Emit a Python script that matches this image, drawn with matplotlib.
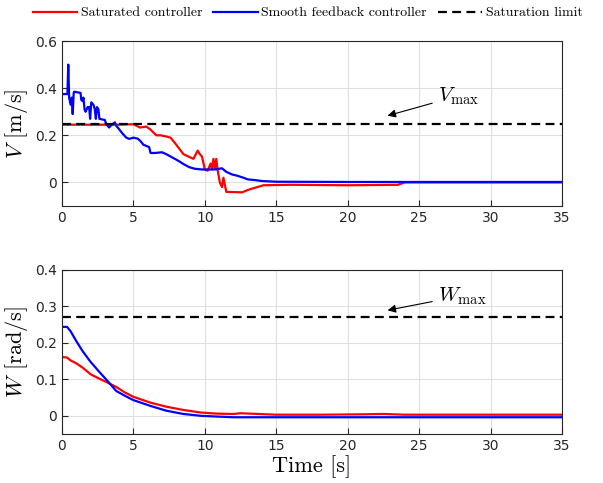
import matplotlib
matplotlib.use("Agg")
import matplotlib.pyplot as plt

# data
t_v_smooth = [0, 0.38, 0.44, 0.5, 0.6, 0.68, 0.75, 0.82, 0.85, 1.3, 1.35, 1.45, 1.5, 1.58, 1.65, 1.8, 1.9,
              1.97, 2.05, 2.2, 2.3, 2.37, 2.45, 2.55, 2.62, 3.0, 3.1, 3.3, 3.4, 3.5, 3.6, 3.7, 3.8, 4.0,
              4.2, 4.35, 4.5, 4.7, 5.0, 5.3, 5.5, 5.7, 5.9, 6.1, 6.2, 6.5, 7.0, 7.3, 7.6, 7.9, 8.2, 8.5,
              8.9, 9.3, 9.8, 10.7, 11.0, 11.2, 11.5, 11.9, 12.3, 12.7, 13.0, 13.5, 14, 15, 20, 25, 30, 35]
v_smooth = [0.375, 0.375, 0.50, 0.36, 0.33, 0.36, 0.29, 0.38, 0.385, 0.38, 0.35, 0.345, 0.36, 0.31, 0.30,
            0.32, 0.32, 0.27, 0.34, 0.33, 0.31, 0.27, 0.32, 0.31, 0.27, 0.265, 0.247, 0.233, 0.24, 0.247,
            0.25, 0.255, 0.24, 0.226, 0.21, 0.20, 0.19, 0.185, 0.19, 0.186, 0.175, 0.16, 0.155, 0.15,
            0.125, 0.125, 0.128, 0.12, 0.11, 0.10, 0.09, 0.078, 0.065, 0.058, 0.055, 0.055, 0.058, 0.06,
            0.045, 0.034, 0.028, 0.02, 0.013, 0.01, 0.006, 0.003, 0.002, 0.002, 0.002, 0.002]

t_v_sat = [0, 2, 4, 5, 5.46, 5.9, 6.16, 6.6, 6.9, 7.3, 7.6, 8.0, 8.5, 9.2, 9.5, 9.65, 9.8, 10.0, 10.2,
           10.4, 10.5, 10.6, 10.7, 10.8, 10.9, 11.05, 11.2, 11.3, 11.5, 12.6, 13.1, 14.1, 16, 20, 23.5, 24, 35]
v_sat = [0.245, 0.245, 0.245, 0.247, 0.233, 0.237, 0.226, 0.20, 0.20, 0.195, 0.19, 0.16, 0.12, 0.10, 0.135,
         0.12, 0.11, 0.055, 0.05, 0.08, 0.055, 0.10, 0.06, 0.10, 0.05, 0.0, -0.02, 0.02, -0.04, -0.042,
         -0.03, -0.012, -0.01, -0.012, -0.01, 0.0, 0.0]

t_w = [0, 0.35, 0.6, 1.0, 1.45, 2.0, 2.6, 3.2, 3.8, 4.4, 5.0, 6.2, 7.3, 8.5, 9.7, 10.8, 12.0, 12.5,
       15, 18, 21, 22.5, 24, 28, 35]
w_smooth = [0.244, 0.244, 0.232, 0.205, 0.177, 0.148, 0.121, 0.095, 0.068, 0.055, 0.043, 0.027, 0.014,
            0.005, 0.0, -0.002, -0.004, -0.004, -0.004, -0.004, -0.004, -0.004, -0.004, -0.004, -0.004]
w_sat = [0.161, 0.16, 0.152, 0.144, 0.132, 0.114, 0.102, 0.091, 0.079, 0.064, 0.052, 0.036, 0.025,
         0.016, 0.009, 0.006, 0.005, 0.007, 0.003, 0.003, 0.004, 0.005, 0.003, 0.003, 0.003]

v_max = 0.25
w_max = 0.27

plt.rcParams['mathtext.fontset'] = 'cm'
serif = 'cmr10'

fig = plt.figure(figsize=(6.03, 4.83), dpi=100)
ax1 = fig.add_axes([0.1028, 0.5735, 0.8292, 0.3415])
ax2 = fig.add_axes([0.1028, 0.1014, 0.8292, 0.3396])

for ax in (ax1, ax2):
    ax.set_xlim(0, 35)
    ax.set_xticks(range(0, 36, 5))
    ax.grid(True, color='#e0e0e0', linewidth=0.8)
    ax.set_axisbelow(True)
    ax.tick_params(direction='in', labelsize=10, colors='#262626', length=4)
    for s in ax.spines.values():
        s.set_color('#262626')
        s.set_linewidth(0.8)

dash = (0, (4, 2.4))
ax1.plot(t_v_sat, v_sat, color='red', lw=1.6, label='Saturated controller')
ax1.plot(t_v_smooth, v_smooth, color='blue', lw=1.6, label='Smooth feedback controller')
ax1.axhline(v_max, color='black', lw=1.6, ls=dash, label='Saturation limit')
ax1.set_ylim(-0.1, 0.6)
ax1.set_yticks([0, 0.2, 0.4, 0.6])
ax1.set_yticklabels(['0', '0.2', '0.4', '0.6'])
ax1.set_ylabel(r'$V$ [m/s]', family=serif, fontsize=16)
ax1.annotate(r'$V_{\mathrm{max}}$', xy=(22.6, 0.28), xytext=(26.3, 0.345), fontsize=15,
             arrowprops=dict(arrowstyle='-|>', color='black', lw=0.8, mutation_scale=12))

ax2.plot(t_w, w_sat, color='red', lw=1.6)
ax2.plot(t_w, w_smooth, color='blue', lw=1.6)
ax2.axhline(w_max, color='black', lw=1.6, ls=dash)
ax2.set_ylim(-0.05, 0.4)
ax2.set_yticks([0, 0.1, 0.2, 0.3, 0.4])
ax2.set_yticklabels(['0', '0.1', '0.2', '0.3', '0.4'])
ax2.set_ylabel(r'$W$ [rad/s]', family=serif, fontsize=16)
ax2.set_xlabel('Time [s]', family=serif, fontsize=16, labelpad=2)
ax2.annotate(r'$W_{\mathrm{max}}$', xy=(22.6, 0.288), xytext=(26.3, 0.315), fontsize=15,
             arrowprops=dict(arrowstyle='-|>', color='black', lw=0.8, mutation_scale=12))

fig.legend(loc='upper center', bbox_to_anchor=(0.51, 1.012), ncol=3, frameon=False,
           prop={'family': serif, 'size': 10}, handlelength=3.2, columnspacing=0.8, handletextpad=0.25)

fig.savefig('out.png', dpi=100)
